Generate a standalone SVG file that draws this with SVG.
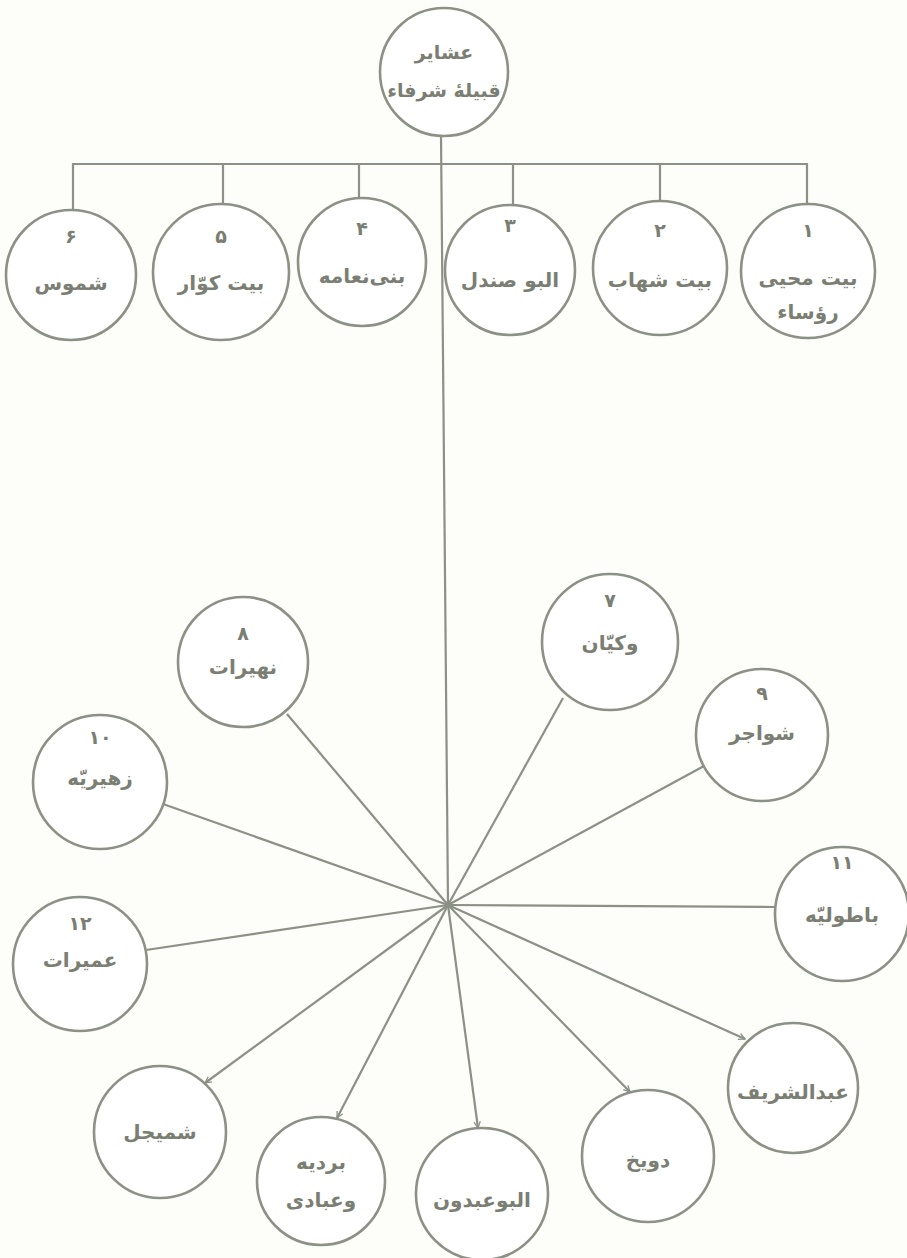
<svg xmlns="http://www.w3.org/2000/svg" width="907" height="1258" viewBox="0 0 907 1258">
<defs>
<marker id="tick" viewBox="0 0 10 10" refX="9" refY="5" markerWidth="3.6" markerHeight="3.6" orient="auto" markerUnits="strokeWidth">
<path d="M1,1 L9,5 L1,9" fill="none" stroke="#8d9085" stroke-width="1.6"/>
</marker>
</defs>
<style>
.bg{fill:#fdfdfa}
circle{fill:#ffffff;stroke:#8d9085;stroke-width:2.6}
.c line,.c polyline{stroke:#8d9085;stroke-width:2.2;fill:none}
text{font-family:"DejaVu Sans",sans-serif;font-weight:bold;fill:#7b7e73;text-anchor:middle}
.n{font-size:19px}
.t{font-size:20px}
.r{font-size:19px}
</style>
<rect class="bg" x="0" y="0" width="907" height="1258"/>
<g id="connectors" class="c">
<polyline points="73,210 73,164 807,164 807,204"/>
<line x1="223" y1="164" x2="223" y2="204"/>
<line x1="359" y1="164" x2="359" y2="198"/>
<line x1="513" y1="164" x2="513" y2="205"/>
<line x1="660" y1="164" x2="660" y2="201"/>
<line x1="441" y1="136" x2="448" y2="905"/>
<line x1="448" y1="905" x2="563" y2="698"/>
<line x1="448" y1="905" x2="287" y2="714"/>
<line x1="448" y1="905" x2="704" y2="766"/>
<line x1="448" y1="905" x2="163" y2="804"/>
<line x1="448" y1="905" x2="775" y2="907"/>
<line x1="448" y1="905" x2="146" y2="950"/>
<line x1="448" y1="905" x2="205" y2="1083" marker-end="url(#tick)"/>
<line x1="448" y1="905" x2="337" y2="1118" marker-end="url(#tick)"/>
<line x1="448" y1="905" x2="478" y2="1128" marker-end="url(#tick)"/>
<line x1="448" y1="905" x2="630" y2="1092" marker-end="url(#tick)"/>
<line x1="448" y1="905" x2="745" y2="1039" marker-end="url(#tick)"/>
</g>
<g id="root"><circle cx="444" cy="72" r="64"/><text class="r" x="444" y="59">عشاير</text><text class="r" x="444" y="97">قبيلهٔ شرفاء</text></g>
<g id="n1"><circle cx="808" cy="271" r="67"/><text class="n" x="808" y="237">۱</text><text class="t" x="808" y="285">بيت محيى</text><text class="t" x="808" y="319">رؤساء</text></g>
<g id="n2"><circle cx="660" cy="268" r="67"/><text class="n" x="660" y="237">۲</text><text class="t" x="660" y="287">بيت شهاب</text></g>
<g id="n3"><circle cx="510" cy="270" r="65"/><text class="n" x="510" y="232">۳</text><text class="t" x="510" y="287">البو صندل</text></g>
<g id="n4"><circle cx="362" cy="262" r="64"/><text class="n" x="362" y="235">۴</text><text class="t" x="362" y="283">بنى‌نعامه</text></g>
<g id="n5"><circle cx="221" cy="272" r="68"/><text class="n" x="221" y="243">۵</text><text class="t" x="221" y="290">بيت كوّار</text></g>
<g id="n6"><circle cx="71" cy="275" r="65"/><text class="n" x="71" y="243">۶</text><text class="t" x="71" y="290">شموس</text></g>
<g id="n7"><circle cx="610" cy="642" r="68"/><text class="n" x="610" y="607">۷</text><text class="t" x="610" y="650">وكيّان</text></g>
<g id="n8"><circle cx="243" cy="662" r="65"/><text class="n" x="243" y="640">۸</text><text class="t" x="243" y="674">نهيرات</text></g>
<g id="n9"><circle cx="762" cy="735" r="66"/><text class="n" x="762" y="700">۹</text><text class="t" x="762" y="740">شواجر</text></g>
<g id="n10"><circle cx="100" cy="782" r="67"/><text class="n" x="100" y="744">۱۰</text><text class="t" x="100" y="785">زهيريّه</text></g>
<g id="n11"><circle cx="842" cy="914" r="67"/><text class="n" x="842" y="869">۱۱</text><text class="t" x="842" y="922">باطوليّه</text></g>
<g id="n12"><circle cx="80" cy="964" r="67"/><text class="n" x="80" y="930">۱۲</text><text class="t" x="80" y="967">عميرات</text></g>
<g id="n13"><circle cx="160" cy="1132" r="66"/><text class="t" x="160" y="1139">شميجل</text></g>
<g id="n14"><circle cx="321" cy="1181" r="64"/><text class="t" x="321" y="1169">برديه</text><text class="t" x="321" y="1207">وعبادى</text></g>
<g id="n15"><circle cx="482" cy="1194" r="66"/><text class="t" x="482" y="1207">البوعبدون</text></g>
<g id="n16"><circle cx="648" cy="1156" r="66"/><text class="t" x="648" y="1167">دويخ</text></g>
<g id="n17"><circle cx="793" cy="1088" r="65"/><text class="t" x="793" y="1099">عبدالشريف</text></g>
</svg>
